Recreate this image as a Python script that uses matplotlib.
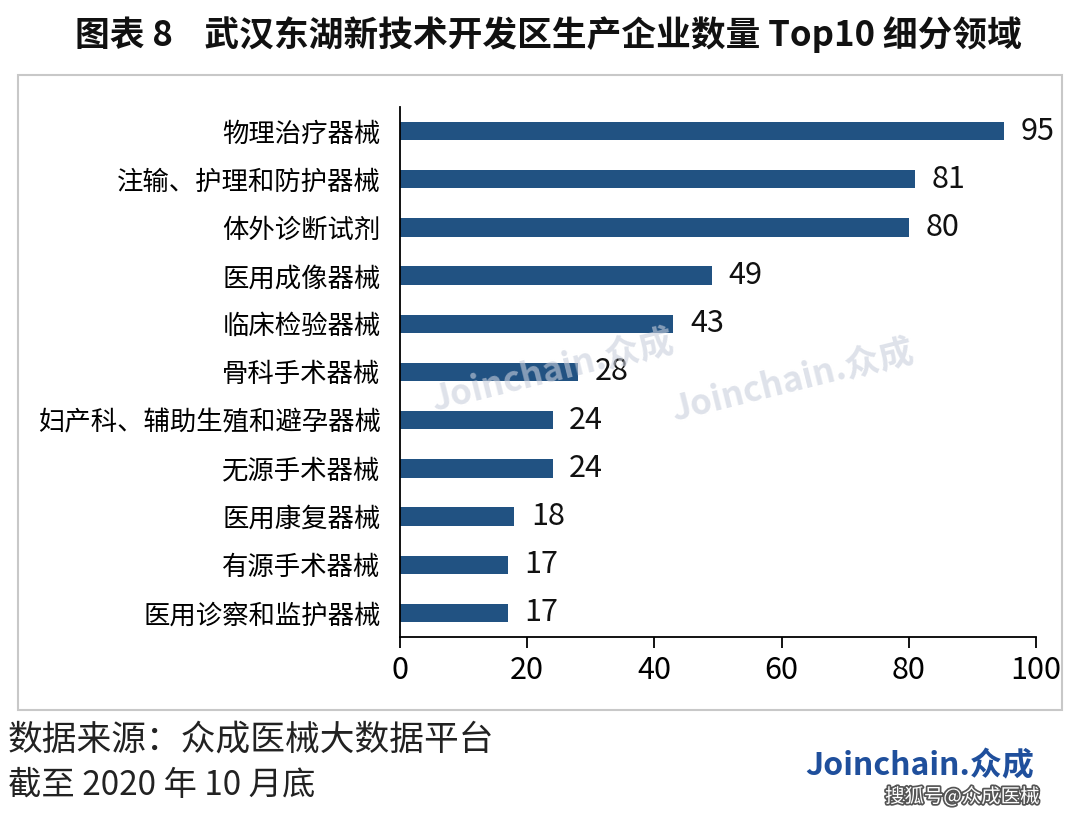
import matplotlib.pyplot as plt
import matplotlib.patches as patches
import matplotlib.patheffects as pe

plt.rcParams['font.family'] = ['Noto Sans CJK SC', 'DejaVu Sans']

categories = ["物理治疗器械", "注输、护理和防护器械", "体外诊断试剂", "医用成像器械",
              "临床检验器械", "骨科手术器械", "妇产科、辅助生殖和避孕器械", "无源手术器械",
              "医用康复器械", "有源手术器械", "医用诊察和监护器械"]
counts = [95, 81, 80, 49, 43, 28, 24, 24, 18, 17, 17]
xticks = [0, 20, 40, 60, 80, 100]

bar_color = "#215282"

fig = plt.figure(figsize=(10.8, 8.14), dpi=100)
W, H = 1080, 814

# outer frame of the chart area
fig.patches.append(patches.Rectangle((18 / W, 1 - 710 / H), (1062 - 18) / W, (710 - 75) / H,
                                     transform=fig.transFigure, fill=False,
                                     edgecolor="#c8c8c8", linewidth=1.5))

ax = fig.add_axes([400 / W, 1 - 637 / H, (1036 - 400) / W, (637 - 107) / H])
y = list(range(len(categories)))
ax.barh(y, counts, height=0.38, color=bar_color)
ax.set_ylim(len(categories) - 0.5, -0.5)
ax.set_xlim(0, 100)
ax.set_xticks(xticks)
ax.set_yticks(y)
ax.set_yticklabels(categories, fontsize=19)
ax.tick_params(axis='y', length=0, pad=14)
ax.tick_params(axis='x', length=8, width=1.3, direction='out', labelsize=22, pad=5)
for s in ['top', 'right']:
    ax.spines[s].set_visible(False)
ax.spines['left'].set_linewidth(1.3)
ax.spines['bottom'].set_linewidth(1.3)

for yi, v in zip(y, counts):
    ax.text(v + 2.6, yi, str(v), va='center', ha='left', fontsize=22, color='#111111')

# watermarks
for (wx, wy) in [(428 / W, 1 - 418 / H), (668 / W, 1 - 428 / H)]:
    fig.text(wx, wy, "Joinchain.众成", fontsize=25, fontweight='bold', color='#c9cfdc',
             alpha=0.6, rotation=14, ha='left', va='bottom', zorder=0)

fig.text(548 / W, 1 - 35 / H, "图表 8    武汉东湖新技术开发区生产企业数量 Top10 细分领域",
         ha='center', va='center', fontsize=25, fontweight='bold', color='#111111')

fig.text(8 / W, 1 - 740 / H, "数据来源：众成医械大数据平台", ha='left', va='center',
         fontsize=25, color='#222222')
fig.text(8 / W, 1 - 785 / H, "截至 2020 年 10 月底", ha='left', va='center',
         fontsize=24, color='#222222')

fig.text(805 / W, 1 - 766 / H, "Joinchain.众成", ha='left', va='center',
         fontsize=23, fontweight='bold', color='#1f4f9c')
fig.text(885 / W, 1 - 797 / H, "搜狐号@众成医械", ha='left', va='center',
         fontsize=14, color='white',
         path_effects=[pe.withStroke(linewidth=2.5, foreground='#555555')])

fig.savefig("out.png", dpi=100)
